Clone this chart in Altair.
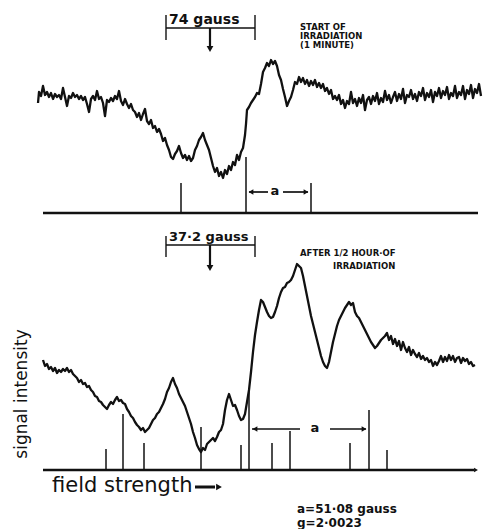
import altair as alt
import pandas as pd

# ---- ESR spectrum recorded at the start of irradiation (1 minute) ----
top_field = [38, 39, 41, 43, 45, 47, 49, 51, 53, 55, 57, 59, 61, 63, 65, 67, 69, 71, 73, 75,
             77, 79, 81, 83, 85, 87, 89, 91, 93, 95, 97, 99, 101, 103, 105, 107, 109, 111, 113, 115,
             117, 119, 121, 123, 125, 127, 129, 131, 133, 135, 137, 139, 141, 143, 145, 147, 149, 151, 153, 155,
             157, 159, 161, 163, 165, 167, 169, 171, 173, 175, 177, 179, 181, 183, 185, 187, 189, 191, 193, 195,
             197, 199, 201, 203, 205, 207, 209, 211, 213, 215, 217, 219, 221, 223, 225, 227, 229, 231, 233, 235,
             237, 239, 241, 243, 245, 246, 247, 249, 251, 253, 255, 257, 259, 261, 263, 265, 267, 269, 271, 273,
             275, 277, 279, 281, 283, 285, 287, 289, 291, 293, 295, 297, 299, 301, 303, 305, 307, 309, 311, 313,
             315, 317, 319, 321, 323, 325, 327, 329, 331, 333, 335, 337, 339, 341, 343, 345, 347, 349, 351, 353,
             355, 357, 359, 361, 363, 365, 367, 369, 371, 373, 375, 377, 379, 381, 383, 385, 387, 389, 391, 393,
             395, 397, 399, 401, 403, 405, 407, 409, 411, 413, 415, 417, 419, 421, 423, 425, 427, 429, 431, 433,
             435, 437, 439, 441, 443, 445, 447, 449, 451, 453, 455, 457, 459, 461, 463, 465, 467, 469, 471, 473,
             475, 477, 479, 481]
top_level = [103, 92, 96, 86, 95, 92, 97, 93, 99, 94, 97, 95, 99, 88, 97, 106, 96, 98, 93, 97,
             95, 99, 96, 100, 97, 104, 112, 99, 96, 100, 91, 99, 97, 103, 116, 100, 102, 98, 101, 96,
             99, 91, 101, 105, 99, 104, 108, 104, 110, 112, 117, 113, 120, 114, 109, 121, 124, 120, 128, 126,
             132, 129, 134, 141, 138, 145, 150, 157, 159, 154, 151, 146, 153, 158, 155, 160, 156, 161, 158, 150,
             146, 140, 137, 133, 140, 145, 150, 158, 166, 172, 168, 176, 172, 178, 170, 174, 166, 170, 162, 165,
             155, 160, 152, 148, 135, 124, 110, 107, 103, 100, 97, 93, 94, 84, 72, 68, 63, 66, 60, 64,
             61, 66, 75, 80, 89, 97, 106, 101, 97, 90, 82, 84, 77, 82, 78, 84, 80, 86, 81, 85,
             80, 87, 83, 88, 84, 91, 88, 94, 90, 99, 96, 100, 95, 104, 100, 108, 101, 104, 92, 103,
             99, 106, 98, 103, 95, 110, 100, 97, 104, 96, 101, 93, 104, 98, 102, 91, 100, 95, 103, 97,
             92, 101, 94, 99, 89, 103, 95, 97, 90, 99, 94, 101, 92, 96, 88, 100, 93, 97, 90, 102,
             92, 96, 88, 98, 91, 95, 87, 99, 93, 96, 86, 98, 92, 95, 86, 99, 90, 94, 85, 98,
             89, 93, 84, 96]

# ---- ESR spectrum after 1/2 hour of irradiation ----
bot_field = [43, 45, 47, 49, 51, 53, 55, 57, 59, 61, 63, 65, 67, 69, 71, 73, 75, 77, 79, 81,
             83, 85, 87, 89, 91, 93, 95, 97, 99, 101, 103, 105, 107, 109, 111, 113, 115, 117, 119, 121,
             123, 125, 127, 129, 131, 133, 135, 137, 139, 141, 143, 145, 147, 149, 151, 153, 155, 157, 159, 161,
             163, 165, 167, 169, 171, 173, 175, 177, 179, 181, 183, 185, 187, 189, 191, 193, 195, 197, 199, 201,
             203, 205, 207, 209, 211, 213, 215, 217, 219, 221, 223, 225, 227, 229, 231, 233, 235, 237, 239, 241,
             243, 245, 247, 249, 251, 253, 255, 257, 259, 261, 263, 265, 267, 269, 271, 273, 275, 277, 279, 281,
             283, 285, 287, 289, 291, 293, 295, 297, 299, 301, 303, 305, 307, 309, 311, 313, 315, 317, 319, 321,
             323, 325, 327, 329, 331, 333, 335, 337, 339, 341, 343, 345, 347, 349, 351, 353, 355, 357, 359, 361,
             363, 365, 367, 369, 371, 373, 375, 377, 379, 381, 383, 385, 387, 389, 391, 393, 395, 397, 399, 401,
             403, 405, 407, 409, 411, 413, 415, 417, 419, 421, 423, 425, 427, 429, 431, 433, 435, 437, 439, 441,
             443, 445, 447, 449, 451, 453, 455, 457, 459, 461, 463, 465, 467, 469, 471, 473, 475]
bot_level = [360, 366, 364, 369, 367, 371, 368, 373, 370, 372, 369, 371, 368, 372, 370, 374, 376, 378, 382, 380,
             384, 383, 387, 386, 390, 392, 396, 397, 401, 402, 405, 407, 409, 405, 402, 404, 400, 397, 401, 400,
             403, 404, 409, 412, 416, 418, 422, 425, 427, 430, 428, 432, 430, 428, 424, 420, 418, 414, 412, 408,
             404, 399, 392, 388, 382, 378, 384, 388, 394, 398, 402, 406, 412, 418, 424, 432, 438, 445, 449, 452,
             448, 450, 444, 442, 440, 438, 441, 437, 432, 430, 424, 410, 400, 394, 400, 406, 405, 410, 416, 420,
             419, 414, 402, 390, 372, 352, 335, 322, 310, 300, 302, 307, 312, 316, 318, 317, 312, 306, 298, 292,
             288, 287, 283, 282, 280, 276, 270, 264, 266, 268, 276, 286, 296, 306, 316, 324, 332, 340, 348, 356,
             362, 366, 368, 362, 352, 342, 334, 326, 320, 316, 312, 308, 305, 302, 305, 303, 312, 316, 318, 322,
             326, 330, 334, 338, 342, 345, 348, 346, 343, 340, 338, 336, 333, 340, 336, 344, 339, 346, 341, 350,
             342, 348, 352, 347, 355, 350, 354, 357, 353, 359, 356, 360, 358, 362, 360, 366, 362, 365, 361, 356,
             362, 357, 361, 355, 360, 356, 362, 358, 357, 363, 358, 361, 359, 364, 362, 366, 365]

# ---- hyperfine line positions (stick diagrams) ----
top_stick_field = [181, 246, 311]
top_stick_top = [183, 157, 183]
bot_stick_field = [106, 123, 144, 201, 241, 249, 272, 290, 350, 369, 387]
bot_stick_top = [449, 414, 443, 427, 445, 389, 443, 431, 443, 410, 450]
top_base_level = 213
bot_base_level = 470

traces = pd.concat([
    pd.DataFrame({"field": top_field, "level": top_level, "run": "start"}),
    pd.DataFrame({"field": bot_field, "level": bot_level, "run": "half hour"}),
])
traces["order"] = range(len(traces))

# straight segments: baselines, sticks, brackets, arrow shafts
seg_rows = []
def seg(x, y, x2, y2, w):
    seg_rows.append({"x": x, "y": y, "x2": x2, "y2": y2, "w": w})

seg(43, top_base_level, 478, top_base_level, 2.3)
seg(43, bot_base_level, 474, bot_base_level, 2.3)
for f, t in zip(top_stick_field, top_stick_top):
    seg(f, t, f, top_base_level, 1.5)
for f, t in zip(bot_stick_field, bot_stick_top):
    seg(f, t, f, bot_base_level, 1.5)
# field-width brackets with centre arrows
for yb, t0, t1, tip in [(28, 15, 40, 47), (245, 236, 257, 266)]:
    seg(166, yb, 255, yb, 1.7)
    seg(166, t0, 166, t1, 1.4)
    seg(255, t0, 255, t1, 1.4)
    seg(210, yb, 210, tip, 2.2)
# splitting constant arrows
seg(249, 192, 268, 192, 1.7)
seg(283, 192, 308, 192, 1.7)
seg(252, 429, 300, 429, 1.7)
seg(330, 429, 366, 429, 1.7)
# field strength arrow
seg(195, 487, 215, 487, 3.0)
segments = pd.DataFrame(seg_rows)

heads = pd.DataFrame([
    {"x": 210, "y": 49, "shape": "triangle-down", "s": 45},
    {"x": 210, "y": 268, "shape": "triangle-down", "s": 45},
    {"x": 251, "y": 192, "shape": "triangle-left", "s": 30},
    {"x": 306, "y": 192, "shape": "triangle-right", "s": 30},
    {"x": 255, "y": 429, "shape": "triangle-left", "s": 30},
    {"x": 364, "y": 429, "shape": "triangle-right", "s": 30},
    {"x": 219, "y": 487, "shape": "triangle-right", "s": 45},
    {"x": 476, "y": 470, "shape": "triangle-right", "s": 20},
])

X = alt.Scale(domain=[0, 483])
Y = alt.Scale(domain=[0, 529], reverse=True)

base = alt.Chart(traces)

lines = base.mark_line(color="#111", strokeWidth=2.3, strokeJoin="round").encode(
    x=alt.X("field:Q", scale=X, axis=None),
    y=alt.Y("level:Q", scale=Y, axis=None),
    detail="run:N",
    order="order:Q",
)

rules = alt.Chart(segments).mark_rule(color="#111").encode(
    x=alt.X("x:Q", scale=X, axis=None),
    y=alt.Y("y:Q", scale=Y, axis=None),
    x2="x2:Q",
    y2="y2:Q",
    strokeWidth=alt.StrokeWidth("w:Q", scale=None),
)

arrowheads = alt.Chart(heads).mark_point(filled=True, color="#111", opacity=1).encode(
    x=alt.X("x:Q", scale=X, axis=None),
    y=alt.Y("y:Q", scale=Y, axis=None),
    shape=alt.Shape("shape:N", scale=None),
    size=alt.Size("s:Q", scale=None),
)

def labels(rows, **style):
    df = pd.DataFrame(rows, columns=["x", "y", "label"])
    return alt.Chart(df).mark_text(color="#111", baseline="middle", **style).encode(
        x=alt.X("x:Q", scale=X, axis=None),
        y=alt.Y("y:Q", scale=Y, axis=None),
        text="label:N",
    )

gauss_labels = labels([(169, 20, "74 gauss")], align="left", font="DejaVu Sans",
                      fontSize=14, fontWeight="bold")
gauss_labels2 = labels([(169, 237, "37·2 gauss")], align="left", font="DejaVu Sans",
                       fontSize=13, fontWeight="bold")
notes = labels([(300, 27, "START OF"), (300, 36, "IRRADIATION"), (300, 45, "(1 MINUTE)"),
                (300, 253, "AFTER 1/2 HOUR·OF"), (333, 266, "IRRADIATION")],
               align="left", font="DejaVu Sans", fontSize=8.5, fontWeight="bold")
a_marks = labels([(275, 191, "a"), (315, 428, "a")], align="center", font="DejaVu Sans",
                 fontSize=13, fontWeight="bold")
constants = labels([(297, 509, "a=51·08 gauss"), (297, 523, "g=2·0023")], align="left",
                   font="DejaVu Sans", fontSize=12, fontWeight="bold")
field_label = labels([(52, 486, "field strength")], align="left", font="DejaVu Sans",
                     fontSize=21)
signal_label = labels([(22, 394, "signal intensity")], align="center", font="DejaVu Sans",
                      fontSize=17, angle=270)

chart = alt.layer(
    rules, lines, arrowheads, gauss_labels, gauss_labels2, notes, a_marks,
    constants, field_label, signal_label,
).properties(
    width=483, height=529, padding=0, autosize=alt.AutoSizeParams(type="none"),
    background="white",
).configure_view(stroke=None)

chart.save("out.html", embed_options={"renderer": "svg", "actions": False})
